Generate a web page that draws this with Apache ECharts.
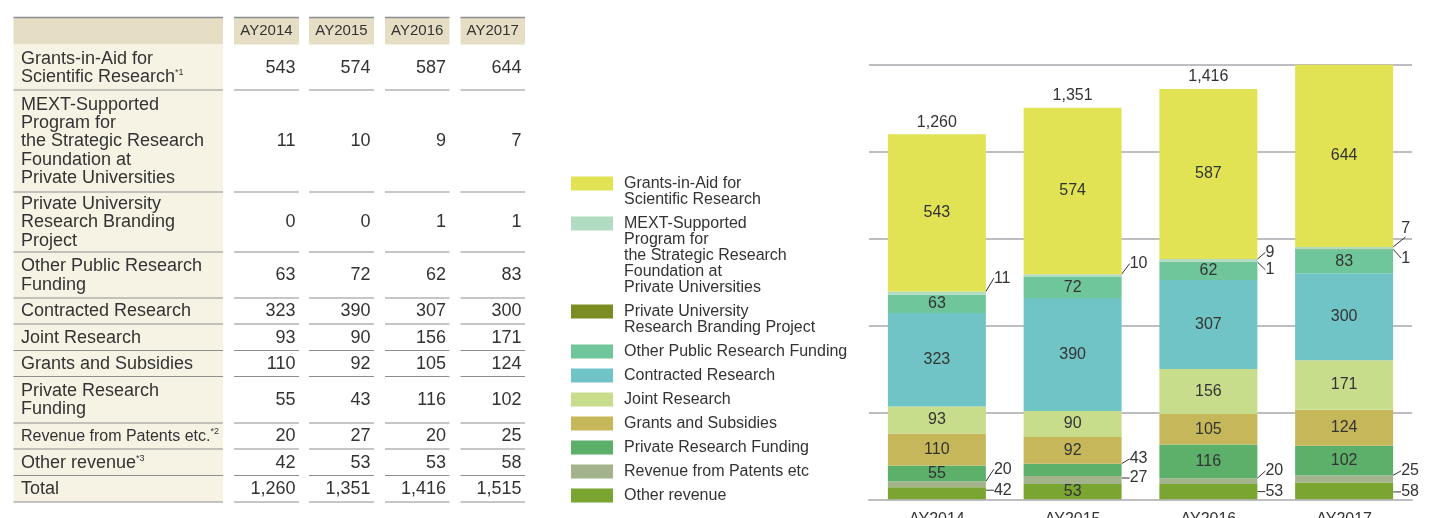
<!DOCTYPE html>
<html>
<head>
<meta charset="utf-8">
<script src="https://cdn.jsdelivr.net/npm/echarts@6/dist/echarts.min.js"></script>
<style>
  html, body { margin: 0; padding: 0; background: #fff; }
  #chart { width: 1455px; height: 518px; }
</style>
</head>
<body>
<div id="chart"></div>
<script>
var years = ['AY2014', 'AY2015', 'AY2016', 'AY2017'];
var grantsInAid = [543, 574, 587, 644];
var mextProgram = [11, 10, 9, 7];
var brandingProject = [0, 0, 1, 1];
var otherPublic = [63, 72, 62, 83];
var contracted = [323, 390, 307, 300];
var jointResearch = [93, 90, 156, 171];
var grantsSubsidies = [110, 92, 105, 124];
var privateFunding = [55, 43, 116, 102];
var patents = [20, 27, 20, 25];
var otherRevenue = [42, 53, 53, 58];
var totals = [1260, 1351, 1416, 1515];
var yMax = 1500;
var yStep = 300;

var FONT = '"Liberation Sans", Arial, Helvetica, sans-serif';
var TXT = '#333';

// table order (top to bottom) = legend order; the stack is built in reverse
var rows = [
  { key: 'gia', name: 'Grants-in-Aid for Scientific Research', data: grantsInAid, color: '#e1e355',
    legend: 'Grants-in-Aid for\nScientific Research', table: 'Grants-in-Aid for\nScientific Research{s|*1}' },
  { key: 'mext', name: 'MEXT-Supported Program for the Strategic Research Foundation at Private Universities', data: mextProgram, color: '#b1dcc2',
    legend: 'MEXT-Supported\nProgram for\nthe Strategic Research\nFoundation at\nPrivate Universities',
    table: 'MEXT-Supported\nProgram for\nthe Strategic Research\nFoundation at\nPrivate Universities' },
  { key: 'brand', name: 'Private University Research Branding Project', data: brandingProject, color: '#7b8d22',
    legend: 'Private University\nResearch Branding Project', table: 'Private University\nResearch Branding\nProject' },
  { key: 'opub', name: 'Other Public Research Funding', data: otherPublic, color: '#70c69b',
    legend: 'Other Public Research Funding', table: 'Other Public Research\nFunding' },
  { key: 'contr', name: 'Contracted Research', data: contracted, color: '#70c4c6',
    legend: 'Contracted Research', table: 'Contracted Research' },
  { key: 'joint', name: 'Joint Research', data: jointResearch, color: '#c8dd8b',
    legend: 'Joint Research', table: 'Joint Research' },
  { key: 'gs', name: 'Grants and Subsidies', data: grantsSubsidies, color: '#c6b85a',
    legend: 'Grants and Subsidies', table: 'Grants and Subsidies' },
  { key: 'prf', name: 'Private Research Funding', data: privateFunding, color: '#5cb06a',
    legend: 'Private Research Funding', table: 'Private Research\nFunding' },
  { key: 'pat', name: 'Revenue from Patents etc', data: patents, color: '#a3b48c',
    legend: 'Revenue from Patents etc', table: '{m|Revenue from Patents etc.}{s|*2}' },
  { key: 'orev', name: 'Other revenue', data: otherRevenue, color: '#79a530',
    legend: 'Other revenue', table: 'Other revenue{s|*3}' }
];

// labels drawn beside the bar with a leader line: key + year index -> vertical shift
var outside = {
  mext0: -15, mext1: -12, mext2: -8, mext3: -19,
  brand2: 8, brand3: 9,
  prf1: -11,
  pat0: -15, pat1: -2, pat2: -10, pat3: -8,
  orev0: -3, orev2: 0, orev3: 1
};

// ---- table (graphic) ----
var rowEdges = [44.5, 90, 192, 252, 298, 324, 350.5, 376.5, 423, 449, 475.5, 502];
var headTop = 17.5;
var labelCol = [13.5, 223];
var colBoxes = [[234, 299], [309, 374], [385, 449.5], [460.5, 525]];
var lineColor = '#8e8e8e';

var els = [];
function hline(x1, x2, y, w) {
  els.push({ type: 'line', shape: { x1: x1, y1: y, x2: x2, y2: y }, style: { stroke: lineColor, lineWidth: w || 1.2 } });
}
els.push({ type: 'rect', shape: { x: labelCol[0], y: headTop, width: labelCol[1] - labelCol[0], height: rowEdges[0] - headTop }, style: { fill: '#e5ddc4' } });
els.push({ type: 'rect', shape: { x: labelCol[0], y: rowEdges[0], width: labelCol[1] - labelCol[0], height: rowEdges[rowEdges.length - 1] - rowEdges[0] }, style: { fill: '#f6f3e5' } });
hline(labelCol[0], labelCol[1], headTop, 1.5);
colBoxes.forEach(function (c, i) {
  els.push({ type: 'rect', shape: { x: c[0], y: headTop, width: c[1] - c[0], height: rowEdges[0] - headTop }, style: { fill: '#e5ddc4' } });
  hline(c[0], c[1], headTop, 1.5);
  els.push({ type: 'text', x: (c[0] + c[1]) / 2, y: (headTop + rowEdges[0]) / 2,
    style: { text: years[i], fill: TXT, font: '15px ' + FONT, align: 'center', verticalAlign: 'middle' } });
});

var tableRows = rows.map(function (r) { return { label: r.table, values: r.data }; });
tableRows.push({ label: 'Total', values: totals });

tableRows.forEach(function (r, k) {
  var y0 = rowEdges[k], y1 = rowEdges[k + 1], yc = (y0 + y1) / 2;
  els.push({ type: 'text', x: 21, y: yc + 0.5,
    style: { text: r.label, fill: TXT, font: '18px ' + FONT, lineHeight: 18.3, align: 'left', verticalAlign: 'middle',
      rich: { s: { fontSize: 9, fill: TXT, fontFamily: FONT, verticalAlign: 'top', lineHeight: 18.3 },
              m: { fontSize: 16, fill: TXT, fontFamily: FONT, lineHeight: 18.3 } } } });
  r.values.forEach(function (v, i) {
    els.push({ type: 'text', x: colBoxes[i][1] - 3.5, y: yc + 0.5,
      style: { text: v.toLocaleString('en-US'), fill: TXT, font: '18px ' + FONT, align: 'right', verticalAlign: 'middle' } });
  });
  hline(labelCol[0], labelCol[1], y1);
  colBoxes.forEach(function (c) { hline(c[0], c[1], y1); });
});

// ---- legend: one component per item, first line in the legend, the rest as text below it ----
var legendLeft = 571, legendFirstTop = 176.5, legendGap = 8, legendLine = 16;
var legends = [];
var iconTop = legendFirstTop;
rows.forEach(function (r) {
  var lines = r.legend.split('\n');
  legends.push({
    orient: 'vertical', left: legendLeft, top: iconTop - 1, padding: 0,
    itemWidth: 42, itemHeight: 14, icon: 'rect', selectedMode: false,
    formatter: function () { return lines[0]; },
    textStyle: { fontSize: 16, lineHeight: legendLine, color: TXT, fontFamily: FONT, padding: [0, 0, 0, 6] },
    data: [r.name]
  });
  for (var k = 1; k < lines.length; k++) {
    els.push({ type: 'text', x: legendLeft + 53, y: iconTop + 7 + k * legendLine,
      style: { text: lines[k], fill: TXT, font: '16px ' + FONT, align: 'left', verticalAlign: 'middle' } });
  }
  iconTop += lines.length * legendLine + legendGap;
});

// ---- chart ----
var series = rows.slice().reverse().map(function (r) {
  return {
    name: r.name,
    type: 'bar',
    stack: 'total',
    barWidth: 98,
    itemStyle: { color: r.color },
    label: { show: true, position: 'inside', color: TXT, fontSize: 16, fontFamily: FONT },
    labelLine: { show: false, length2: 0, lineStyle: { color: TXT, width: 1 } },
    labelLayout: function (p) {
      var dy = outside[r.key + p.dataIndex];
      return dy === undefined ? {} : { dy: dy };
    },
    data: r.data.map(function (v, i) {
      if (outside[r.key + i] !== undefined) {
        return { value: v, label: { show: true, position: 'right', distance: 8 }, labelLine: { show: true } };
      }
      if (v === 0) return { value: v, label: { show: false } };
      return v;
    })
  };
});

series.push({
  name: 'Total',
  type: 'scatter',
  data: totals,
  symbolSize: 0,
  silent: true,
  z: 5,
  itemStyle: { opacity: 1 },
  label: {
    show: true, position: 'top', distance: 4, color: TXT, fontSize: 16, fontFamily: FONT, opacity: 1,
    formatter: function (p) { return p.value.toLocaleString('en-US'); }
  }
});

var chart = echarts.init(document.getElementById('chart'));
chart.setOption({
  animation: false,
  backgroundColor: '#fff',
  textStyle: { fontFamily: FONT },
  graphic: { elements: els },
  legend: legends,
  grid: { left: 869, right: 43, top: 64.7, bottom: 18.7, outerBoundsMode: 'none' },
  xAxis: {
    type: 'category',
    data: years,
    axisTick: { show: false },
    axisLine: { lineStyle: { color: '#bdbdc2', width: 2 } },
    axisLabel: { color: TXT, fontSize: 16, fontFamily: FONT, margin: 12 }
  },
  yAxis: {
    type: 'value',
    min: 0,
    max: yMax,
    interval: yStep,
    axisLabel: { show: false },
    axisLine: { show: false },
    axisTick: { show: false },
    splitLine: { lineStyle: { color: '#bdbdc2', width: 2 } }
  },
  series: series
});
</script>
</body>
</html>
